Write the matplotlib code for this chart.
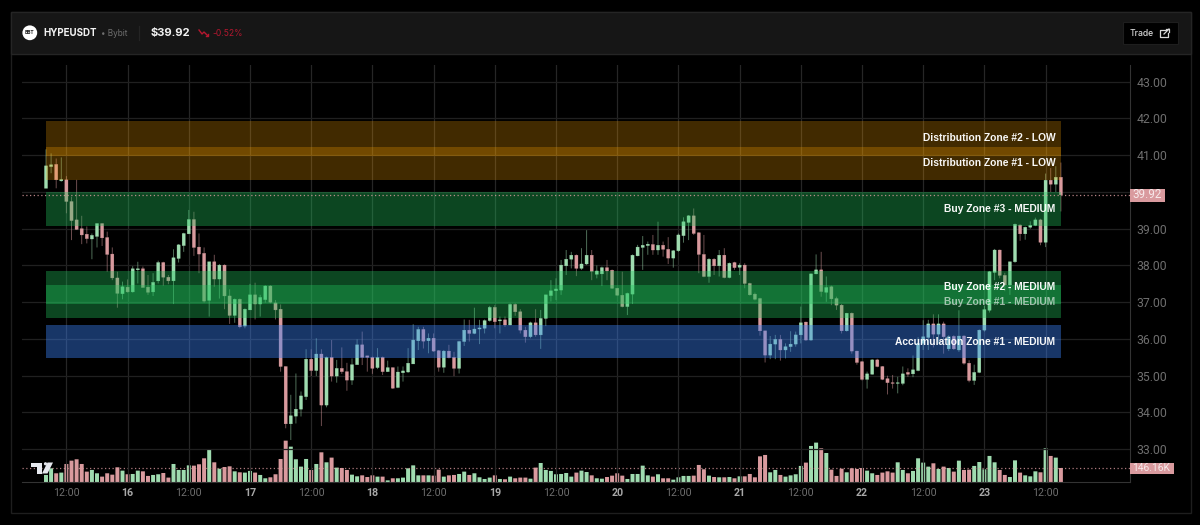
import matplotlib
matplotlib.use("Agg")
import matplotlib.pyplot as plt
from matplotlib.patches import Rectangle, Circle, Polygon

opens = [40.10,40.69,40.75,40.30,40.33,39.74,39.24,39.00,38.85,38.72,38.79,39.14,38.76,38.31,37.66,37.23,37.41,37.28,37.88,37.91,
 37.41,37.28,37.58,38.08,37.68,37.58,38.19,38.54,38.86,39.25,38.50,38.33,37.05,38.10,37.63,38.01,37.17,36.64,37.08,36.35,
 36.79,37.20,36.95,37.07,37.44,36.98,36.81,35.25,33.69,33.90,34.09,34.43,35.45,35.14,35.59,34.20,35.50,34.99,35.20,35.11,
 34.88,35.30,35.84,35.54,35.50,35.22,35.50,35.11,35.22,34.68,35.08,35.10,35.32,35.95,36.26,35.95,36.02,35.68,35.23,35.67,
 35.50,35.20,35.93,36.24,36.15,36.27,36.29,36.50,36.86,36.49,36.52,36.38,36.94,36.74,36.24,36.06,36.44,36.11,36.56,37.18,
 37.31,37.33,37.99,38.17,38.28,37.92,38.04,38.28,37.76,37.77,37.94,37.87,37.38,37.19,36.88,37.22,38.26,38.49,38.54,38.57,
 38.42,38.55,38.44,38.20,38.40,38.81,39.17,39.35,38.89,38.30,37.70,38.17,37.99,38.28,37.67,38.08,37.95,38.01,37.51,37.22,
 37.10,36.22,35.56,35.86,35.99,35.70,35.79,35.86,36.11,36.46,35.97,37.77,37.88,37.27,37.42,37.10,36.92,36.22,36.70,35.67,
 35.38,34.90,35.04,35.43,35.25,34.92,34.81,34.79,34.79,35.09,35.05,35.14,35.88,36.04,36.41,36.13,36.41,35.73,36.07,35.70,
 36.08,35.34,34.87,35.09,36.24,36.78,37.81,38.42,37.73,37.47,38.10,39.10,38.86,39.04,39.09,39.24,38.63,40.32,40.21,40.40]
highs = [41.16,41.05,40.91,40.94,40.43,39.87,40.33,39.35,39.06,38.87,39.15,39.15,38.92,38.49,37.83,37.56,37.62,37.98,38.10,37.97,
 37.74,37.79,38.13,38.10,37.74,38.44,38.58,38.89,39.51,39.46,38.87,38.49,38.10,38.29,38.04,38.03,37.35,37.10,37.10,36.83,
 37.50,37.53,37.20,37.46,37.46,37.06,36.94,35.25,34.48,35.06,34.57,35.72,35.72,36.02,35.72,35.52,35.97,35.43,35.77,35.35,
 35.47,35.99,36.20,35.54,35.52,35.75,35.52,35.41,35.22,35.25,35.25,35.75,36.40,36.33,36.33,36.15,36.15,35.70,35.70,35.84,
 35.65,35.95,36.53,36.52,36.85,36.52,36.53,36.90,36.92,36.61,36.61,36.97,36.97,36.81,36.33,36.47,36.81,36.79,37.20,37.60,
 37.65,38.15,38.42,38.37,38.30,38.47,38.96,38.42,38.00,37.97,38.15,37.89,37.39,37.83,37.26,38.30,38.56,38.80,38.65,38.83,
 39.19,38.65,38.77,38.42,38.87,39.31,39.37,39.55,38.90,38.83,38.20,38.20,38.42,38.47,38.08,38.10,38.06,38.06,37.53,37.26,
 37.12,36.22,36.08,36.11,36.11,35.88,36.21,36.20,36.88,36.47,37.78,38.30,38.37,37.70,37.45,37.15,36.95,36.71,36.72,35.68,
 35.40,35.11,35.45,35.46,35.26,35.00,35.02,34.97,35.25,35.20,35.55,36.05,36.51,36.52,36.67,36.67,36.47,36.10,36.10,36.78,
 36.10,35.42,35.30,36.26,36.90,37.85,38.45,38.43,37.80,38.10,39.14,39.12,39.06,39.20,39.30,39.27,40.50,40.65,40.70,40.80]
lows = [40.10,40.51,40.10,40.28,39.42,38.69,38.97,38.58,38.60,38.17,38.49,38.53,37.83,37.60,36.85,37.08,37.26,37.26,37.51,37.40,
 37.20,37.17,37.51,37.45,37.49,36.95,38.08,38.37,38.85,38.26,37.79,36.99,36.61,37.42,37.10,36.81,36.41,36.44,36.29,36.29,
 36.79,36.53,36.61,36.99,36.97,36.53,35.11,33.57,33.25,33.70,33.89,34.34,34.99,34.99,33.63,34.14,34.84,34.81,35.05,34.59,
 34.75,35.30,35.29,35.11,35.05,35.18,35.02,35.10,34.64,34.66,34.84,35.08,35.32,35.70,35.74,35.61,35.65,35.11,35.08,35.47,
 34.99,35.06,35.81,35.93,36.13,35.86,36.15,36.47,36.29,36.15,36.33,36.37,36.63,36.15,35.90,36.02,36.06,35.73,36.35,37.02,
 37.06,37.20,37.74,37.92,37.71,37.88,38.01,37.60,37.65,37.44,37.60,37.36,37.18,36.86,36.65,36.95,38.25,37.88,38.29,38.29,
 38.29,38.24,38.04,37.94,38.37,38.62,38.69,38.83,37.79,37.68,37.53,37.74,37.70,37.65,37.65,37.88,37.74,37.38,37.18,37.05,
 36.09,35.36,35.45,35.45,35.41,35.47,35.65,35.79,35.88,35.95,35.95,37.76,37.15,37.01,36.92,36.79,36.15,36.20,35.60,35.30,
 34.87,34.65,35.03,35.23,34.88,34.49,34.65,34.52,34.74,34.97,34.96,35.12,35.70,35.70,35.77,35.87,35.60,35.67,35.70,35.65,
 35.30,34.82,34.75,35.07,36.20,36.72,37.60,37.65,37.30,37.20,38.07,38.67,38.70,39.00,39.07,38.55,38.50,40.00,40.00,39.47]
closes = [40.71,40.74,40.33,40.34,39.74,39.22,38.98,38.83,38.73,38.82,39.14,38.75,38.30,37.66,37.24,37.42,37.28,37.91,37.91,37.40,
 37.27,37.54,38.08,37.68,37.58,38.21,38.56,38.87,39.25,38.49,38.31,37.03,38.10,37.63,38.01,37.17,36.64,37.08,36.33,36.81,
 37.20,36.95,37.13,37.44,37.00,36.79,35.25,33.69,33.91,34.09,34.45,35.45,35.14,35.59,34.20,35.50,34.99,35.20,35.11,34.88,
 35.30,35.84,35.50,35.50,35.20,35.50,35.11,35.22,34.66,35.10,35.13,35.34,35.97,36.26,35.94,36.02,35.67,35.23,35.67,35.49,
 35.20,35.93,36.24,36.15,36.27,36.30,36.50,36.86,36.47,36.52,36.38,36.94,36.74,36.24,36.06,36.44,36.11,36.56,37.20,37.31,
 37.36,38.01,38.17,38.28,37.92,38.04,38.28,37.84,37.85,37.94,37.85,37.38,37.19,36.88,37.24,38.28,38.50,38.55,38.58,38.42,
 38.55,38.44,38.20,38.40,38.83,39.19,39.35,38.87,38.30,37.70,38.17,37.99,38.28,37.67,38.06,37.94,38.01,37.51,37.20,37.08,
 36.22,35.56,35.86,35.99,35.70,35.79,35.86,36.11,36.44,35.97,37.77,37.88,37.29,37.40,37.09,36.92,36.22,36.70,35.67,35.36,
 34.90,35.05,35.43,35.25,34.90,34.81,34.79,34.81,35.05,35.04,35.16,35.88,36.06,36.41,36.13,36.41,36.06,36.06,35.73,36.08,
 35.34,34.87,35.09,36.24,36.80,37.83,38.42,37.73,37.47,38.10,39.12,38.86,39.04,39.09,39.24,38.63,40.32,40.21,40.40,39.92]
volumes_k = [75,143,92,99,187,221,235,187,109,126,92,58,92,78,153,119,82,85,119,112,65,75,82,95,48,187,126,126,173,170,
 184,245,337,204,139,156,163,112,102,99,116,99,75,41,51,82,238,425,364,235,160,238,126,187,306,204,252,150,146,126,
 78,61,71,54,71,58,58,20,41,41,
 48,143,173,71,71,71,68,129,58,71,75,85,109,75,92,51,34,48,71,34,31,58,41,48,48,37,150,197,126,116,82,85,95,58,99,119,105,71,41,37,
 54,68,92,68,34,85,85,170,71,58,82,41,41,27,51,65,65,68,177,133,68,54,51,51,54,41,61,61,85,51,265,279,102,126,75,58,71,82,
 167,201,371,405,347,299,129,65,139,102,143,136,146,119,92,75,99,112,99,204,126,92,116,245,201,160,194,136,160,146,
 109,221,126,129,167,207,133,269,204,126,75,54,224,99,71,61,112,102,347,269,252,146]

price_ticks = [33,34,35,36,37,38,39,40,41,42,43]
price_tick_labels = ["33.00","34.00","35.00","36.00","37.00","38.00","39.00","","41.00","42.00","43.00"]
time_ticks = [4,16,28,40,52,64,76,88,100,112,124,136,148,160,172,184,196]
time_labels = ["12:00","16","12:00","17","12:00","18","12:00","19","12:00","20","12:00","21","12:00","22","12:00","23","12:00"]

zone_names = ["Accumulation Zone #1 - MEDIUM","Buy Zone #1 - MEDIUM","Buy Zone #2 - MEDIUM","Buy Zone #3 - MEDIUM",
              "Distribution Zone #1 - LOW","Distribution Zone #2 - LOW"]
zone_low = [35.48,36.56,36.95,39.08,40.32,40.99]
zone_high = [36.38,37.47,37.86,39.99,41.23,41.93]
zone_colors = ["#3b82f6","#22c55e","#22c55e","#22c55e","#ffa500","#ffa500"]
zone_alpha = [0.42,0.36,0.36,0.36,0.26,0.26]
last_price = 39.92
last_volume_k = 146.16

UP = "#9fdcb0"
DOWN = "#d99a9e"
W, H = 1200, 525
plt.rcParams['font.family'] = ['Roboto', 'DejaVu Sans']

fig = plt.figure(figsize=(12, 5.25), dpi=100, facecolor="black")

bg = fig.add_axes([0, 0, 1, 1], zorder=0)
bg.set_xlim(0, W); bg.set_ylim(H, 0); bg.axis("off")
bg.add_patch(Rectangle((10.5, 12), 1180, 501, fc="#000000", ec="#1e1e1e", lw=1))
bg.add_patch(Rectangle((10.5, 12), 1180, 41.5, fc="#161616", ec="#252525", lw=1))

L, R, T, B = 22, 1129.5, 65, 482.3
rect = [L / W, 1 - B / H, (R - L) / W, (B - T) / H]
ax = fig.add_axes(rect, zorder=2)
ax.patch.set_alpha(0)
ax.set_ylim(43 - (B - 81.7) / 36.75, 43 + (81.7 - T) / 36.75)
ax.set_xlim((L - 46) / 5.1, (R - 46) / 5.1)
for s in ("top", "left"):
    ax.spines[s].set_visible(False)
ax.spines["right"].set_color("#333333")
ax.spines["bottom"].set_color("#333333")
ax.yaxis.tick_right()
ax.set_yticks(price_ticks, price_tick_labels)
ax.set_xticks(time_ticks, time_labels)
ax.tick_params(axis="both", length=0, colors="#6e6e6e")
ax.tick_params(axis="y", pad=5.2, labelsize=8.8)
ax.tick_params(axis="x", pad=4, labelsize=7.7)
for lab in ax.get_xticklabels():
    if ":" not in lab.get_text():
        lab.set_fontweight("bold")
        lab.set_color("#a8a8a8")
ax.grid(True, axis="y", color="#202020", lw=0.9, zorder=0)
ax.grid(True, axis="x", color="#262626", lw=0.9, zorder=0)
ax.set_axisbelow(True)

xs = list(range(len(closes)))
colors = [UP if c >= o else DOWN for o, c in zip(opens, closes)]

vol = fig.add_axes(rect, zorder=1)
vol.patch.set_alpha(0)
vol.set_xlim(ax.get_xlim())
vol.set_ylim(0, (B - T) / 0.098)
vol.axis("off")
vbars = vol.bar(xs, volumes_k, width=0.78, color=colors, lw=0)
for p in vbars:
    p.set_snap(False)
vol.axhline(last_volume_k, color=DOWN, lw=0.9, ls=(0, (1, 2)), alpha=0.8)

wicks = ax.vlines(xs, lows, highs, colors=colors, lw=0.7, alpha=0.5, zorder=3)
wicks.set_snap(False)
bodies = ax.bar(xs, [abs(c - o) for o, c in zip(opens, closes)], bottom=[min(o, c) for o, c in zip(opens, closes)],
                width=0.62, color=colors, edgecolor=colors, lw=0.2, zorder=4)
for p in bodies:
    p.set_snap(False)

for lo, hi, col, a in zip(zone_low, zone_high, zone_colors, zone_alpha):
    ax.fill_between([0, 199], lo, hi, color=col, alpha=a, lw=0, zorder=5)

ax.axhline(last_price, color=DOWN, lw=0.9, ls=(0, (1, 2)), alpha=0.85, zorder=6)

for name, lo, hi in zip(zone_names, zone_low, zone_high):
    dim = name.startswith("Buy Zone #1")
    ax.text(197.9, (lo + hi) / 2, name, ha="right", va="center", color="white", alpha=0.6 if dim else 0.97,
            fontsize=7.35, fontweight="bold", family="Liberation Sans", zorder=7)

fg = fig.add_axes([0, 0, 1, 1], zorder=3)
fg.set_xlim(0, W); fg.set_ylim(H, 0); fg.axis("off"); fg.patch.set_alpha(0)
fg.add_patch(Rectangle((1129.5, 189), 35, 12.5, fc=DOWN, lw=0))
fg.text(1147.5, 195, f"{last_price:.2f}", color="#f7e9ea", fontsize=8.4, ha="center", va="center")
fg.add_patch(Rectangle((1129.5, 462.5), 44, 11.5, fc=DOWN, lw=0))
fg.text(1151.5, 468.2, f"{last_volume_k:.2f}K", color="#f7e9ea", fontsize=7.4, ha="center", va="center")

fg.add_patch(Circle((29.8, 32.8), 7.4, fc="white", lw=0))
fg.text(29.8, 33, "BBT", color="#222222", fontsize=3.6, fontweight="bold", ha="center", va="center")
fg.text(43, 33, "HYPEUSDT", color="#f2f2f2", fontsize=7, fontweight="bold", va="center", family="Inter")
fg.text(101, 33, "• Bybit", color="#707070", fontsize=5.9, va="center", family="Inter")
fg.plot([138.5, 138.5], [26, 40], color="#242424", lw=0.9)
fg.text(151, 33, "$39.92", color="#f2f2f2", fontsize=8.1, fontweight="bold", va="center", family="Inter")
fg.plot([199, 202, 204, 208], [30, 34, 32, 36], color="#b5172f", lw=1)
fg.plot([205.5, 208, 208], [36, 36, 33.5], color="#b5172f", lw=1)
fg.text(212, 33, "-0.52%", color="#b5172f", fontsize=6.1, va="center", family="Inter")

fg.add_patch(Rectangle((1122.5, 22), 55, 22, fc="#000000", ec="#1e1e1e", lw=0.8))
fg.text(1130, 33, "Trade", color="#d8d8d8", fontsize=6.2, va="center", family="Inter", fontweight="medium")
fg.plot([1166, 1160, 1160, 1168, 1168], [30, 30, 37, 37, 32.5], color="#d8d8d8", lw=0.9)
fg.plot([1164, 1169], [34, 29], color="#d8d8d8", lw=0.9)
fg.plot([1165.5, 1169, 1169], [29, 29, 32], color="#d8d8d8", lw=0.9)

fg.add_patch(Polygon([(31, 462.5), (42, 462.5), (42, 473.5), (37, 473.5), (37, 467), (31, 467)], fc="#e6e8ee", lw=0))
fg.add_patch(Circle((45.5, 463.8), 1.6, fc="#e6e8ee", lw=0))
fg.add_patch(Polygon([(47.5, 462.5), (53, 462.5), (47.5, 473.5), (42, 473.5)], fc="#e6e8ee", lw=0))

fig.savefig("out.png", dpi=100, facecolor="black")
